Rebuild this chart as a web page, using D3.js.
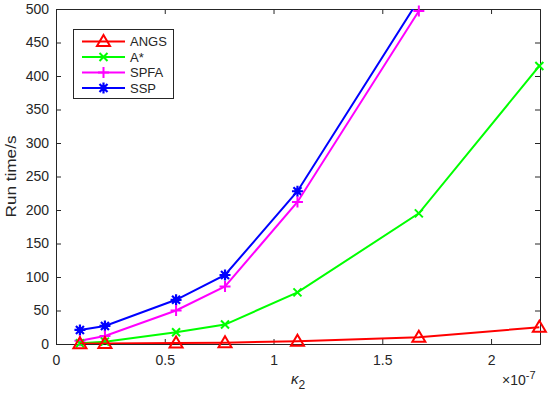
<!DOCTYPE html>
<html>
<head>
<meta charset="utf-8">
<script src="https://cdn.jsdelivr.net/npm/d3@7"></script>
<style>
  body { margin: 0; background: #fff; }
  svg text { font-family: "Liberation Sans", Arial, sans-serif; fill: #262626; }
</style>
</head>
<body>
<svg width="550" height="394"></svg>
<script>
const width = 550,
      height = 394,
      margin = { top: 9, right: 10, bottom: 50, left: 56 };

// kappa_2 values (x 1e-7)
const kappa = [0.11, 0.225, 0.552, 0.777, 1.11, 1.668, 2.222];

const angs = [0.5, 0.8, 1.5, 2, 4, 10, 25];
const astar = [1, 3.5, 17.5, 29, 77, 195, 415];
const spfa = [5, 12, 50, 86, 212, 497];
const ssp = [21, 27, 66, 103, 228, 514];

const seriesNames = ['ANGS', 'A*', 'SPFA', 'SSP'];
const seriesColors = ['#ff0000', '#00ff00', '#ff00ff', '#0000ff'];
const seriesMarkers = ['triangle', 'x', 'plus', 'star'];
const seriesValues = [angs, astar, spfa, ssp];

const xTicks = [0, 0.5, 1, 1.5, 2];
const yTicks = d3.range(0, 501, 50);

const x = d3.scaleLinear()
            .domain([0, 2.225])
            .range([margin.left, width - margin.right]);

const y = d3.scaleLinear()
            .domain([0, 500])
            .range([height - margin.bottom, margin.top]);

const svg = d3.select('svg');

svg.append('defs')
  .append('clipPath')
    .attr('id', 'plot-clip')
  .append('rect')
    .attr('x', margin.left)
    .attr('y', margin.top)
    .attr('width', width - margin.left - margin.right)
    .attr('height', height - margin.top - margin.bottom);

// axes (ticks inward, box like matlab)
const tickLen = 5;
const axisColor = '#262626';

const axBottom = svg.append('g')
    .attr('transform', `translate(0, ${y(0)})`)
    .call(d3.axisBottom(x).tickValues(xTicks).tickSize(-tickLen).tickPadding(11)
      .tickFormat((d) => d === 0 ? '0' : d3.format('')(d)));

const axLeft = svg.append('g')
    .attr('transform', `translate(${x(0)}, 0)`)
    .call(d3.axisLeft(y).tickValues(yTicks).tickSize(-tickLen).tickPadding(7));

const axTop = svg.append('g')
    .attr('transform', `translate(0, ${y(500)})`)
    .call(d3.axisTop(x).tickValues(xTicks).tickSize(-tickLen).tickFormat(''));

const axRight = svg.append('g')
    .attr('transform', `translate(${x(2.225)}, 0)`)
    .call(d3.axisRight(y).tickValues(yTicks).tickSize(-tickLen).tickFormat(''));

[axBottom, axLeft, axTop, axRight].forEach((g) => {
  g.select('.domain').attr('stroke', axisColor).attr('stroke-width', 1);
  g.selectAll('.tick line').attr('stroke', axisColor);
  g.selectAll('.tick text')
    .attr('font-size', 14)
    .style('font-family', '"Liberation Sans", Arial, sans-serif')
    .attr('fill', '#262626');
});

// axis labels
svg.append('text')
    .attr('transform', `translate(16, ${(margin.top + y(0)) / 2}) rotate(-90)`)
    .attr('text-anchor', 'middle')
    .attr('font-size', 15)
    .attr('textLength', 82)
    .attr('lengthAdjust', 'spacingAndGlyphs')
    .text('Run time/s');

const xl = svg.append('text')
    .attr('x', 298)
    .attr('y', 384)
    .attr('text-anchor', 'middle')
    .attr('font-size', 15)
    .style('font-style', 'italic');
xl.append('tspan').text('\u03ba');
xl.append('tspan').attr('font-size', 12).attr('dy', 5).style('font-style', 'normal').text('2');

const exp = svg.append('text')
    .attr('x', 502)
    .attr('y', 385)
    .attr('font-size', 14);
exp.append('tspan').text('\u00d710');
exp.append('tspan').attr('font-size', 11).attr('dy', -6).text('-7');

// markers
function drawMarker(g, type, color, cx, cy) {
  const s = 5.5;
  if (type === 'triangle') {
    g.append('path')
      .attr('d', `M${cx},${cy - s - 1}L${cx + s + 1},${cy + s - 1}L${cx - s - 1},${cy + s - 1}Z`)
      .attr('fill', 'none').attr('stroke', color).attr('stroke-width', 2);
  } else if (type === 'x') {
    g.append('path')
      .attr('d', `M${cx - 4},${cy - 4}L${cx + 4},${cy + 4}M${cx - 4},${cy + 4}L${cx + 4},${cy - 4}`)
      .attr('stroke', color).attr('stroke-width', 2);
  } else if (type === 'plus') {
    g.append('path')
      .attr('d', `M${cx - s},${cy}L${cx + s},${cy}M${cx},${cy - s}L${cx},${cy + s}`)
      .attr('stroke', color).attr('stroke-width', 2);
  } else {
    g.append('path')
      .attr('d', `M${cx - s},${cy}L${cx + s},${cy}M${cx},${cy - s}L${cx},${cy + s}` +
                 `M${cx - 4},${cy - 4}L${cx + 4},${cy + 4}M${cx - 4},${cy + 4}L${cx + 4},${cy - 4}`)
      .attr('stroke', color).attr('stroke-width', 2.2);
    g.append('circle').attr('cx', cx).attr('cy', cy).attr('r', 3).attr('fill', color);
  }
}

const line = d3.line()
               .x((d) => x(d[0]))
               .y((d) => y(d[1]));

const plot = svg.append('g');

// draw in reverse so ANGS ends on top; lines clipped, markers only when in range
[3, 2, 1, 0].forEach((i) => {
  const pts = seriesValues[i].map((v, j) => [kappa[j], v]);
  const g = plot.append('g');
  g.append('path')
    .datum(pts)
    .attr('d', line)
    .attr('clip-path', 'url(#plot-clip)')
    .attr('fill', 'none')
    .attr('stroke', seriesColors[i])
    .attr('stroke-width', 2);
  pts.filter((p) => p[1] <= 500)
     .forEach((p) => drawMarker(g, seriesMarkers[i], seriesColors[i], x(p[0]), y(p[1])));
});

// legend
const legend = svg.append('g');
legend.append('rect')
    .attr('x', 73.5).attr('y', 29.5)
    .attr('width', 100).attr('height', 69)
    .attr('fill', '#fff')
    .attr('stroke', '#262626')
    .attr('stroke-width', 1);

seriesNames.forEach((name, i) => {
  const ly = 41.5 + i * 15.5;
  legend.append('line')
    .attr('x1', 82).attr('x2', 125)
    .attr('y1', ly).attr('y2', ly)
    .attr('stroke', seriesColors[i]).attr('stroke-width', 2);
  drawMarker(legend, seriesMarkers[i], seriesColors[i], 103.5, ly);
  legend.append('text')
    .attr('x', 130).attr('y', ly + 4.5)
    .attr('font-size', 13)
    .text(name);
});
</script>
</body>
</html>
